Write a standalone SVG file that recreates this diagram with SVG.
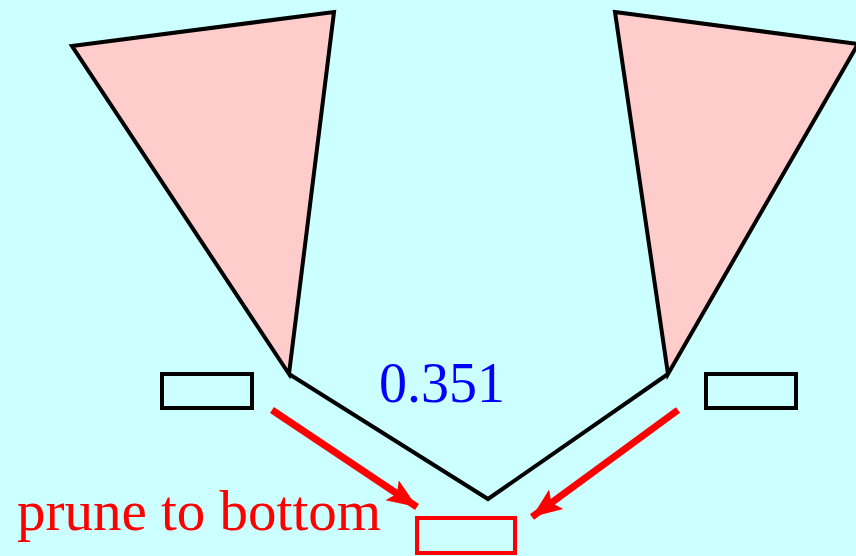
<svg xmlns="http://www.w3.org/2000/svg" width="856" height="556" viewBox="0 0 856 556">
<style>
.tri{fill:#ffcccc;stroke:#000;stroke-width:4;stroke-linejoin:miter}
.box{fill:none;stroke:#000;stroke-width:4}
.red{fill:none;stroke:#ff0000;stroke-width:4}
.arr{stroke:#ff0000;stroke-width:7;fill:none}
.lbl{font-family:"Liberation Serif",serif;font-size:56px}
</style>
<defs>
<marker id="ah" markerUnits="userSpaceOnUse" markerWidth="32" markerHeight="26" refX="30" refY="13" orient="auto">
<path d="M0,1 L30,13 L0,25 L6,13 Z" fill="#ff0000"/>
</marker>
</defs>
<rect width="856" height="556" fill="#ccffff"/>
<g id="tri-left"><polygon class="tri" points="72,46 334,12 289,374"/></g>
<g id="tri-right"><polygon class="tri" points="615,12 858,44 668,374"/></g>
<g id="box-left"><rect class="box" x="162" y="374" width="90" height="34"/></g>
<g id="box-right"><rect class="box" x="706" y="374" width="90" height="34"/></g>
<g id="box-bottom"><rect class="red" x="417" y="518" width="98" height="35"/></g>
<g id="connectors">
<polyline points="289,374 488,499 668,374" fill="none" stroke="#000" stroke-width="4"/>
<line class="arr" x1="272" y1="410" x2="417" y2="507" marker-end="url(#ah)"/>
<line class="arr" x1="678" y1="410" x2="532" y2="517" marker-end="url(#ah)"/>
</g>
<g id="labels">
<text class="lbl" x="379" y="402" fill="#0000ff">0.351</text>
<text class="lbl" x="17" y="530" fill="#ff0000" style="font-size:57px">prune to bottom</text>
</g>
</svg>
